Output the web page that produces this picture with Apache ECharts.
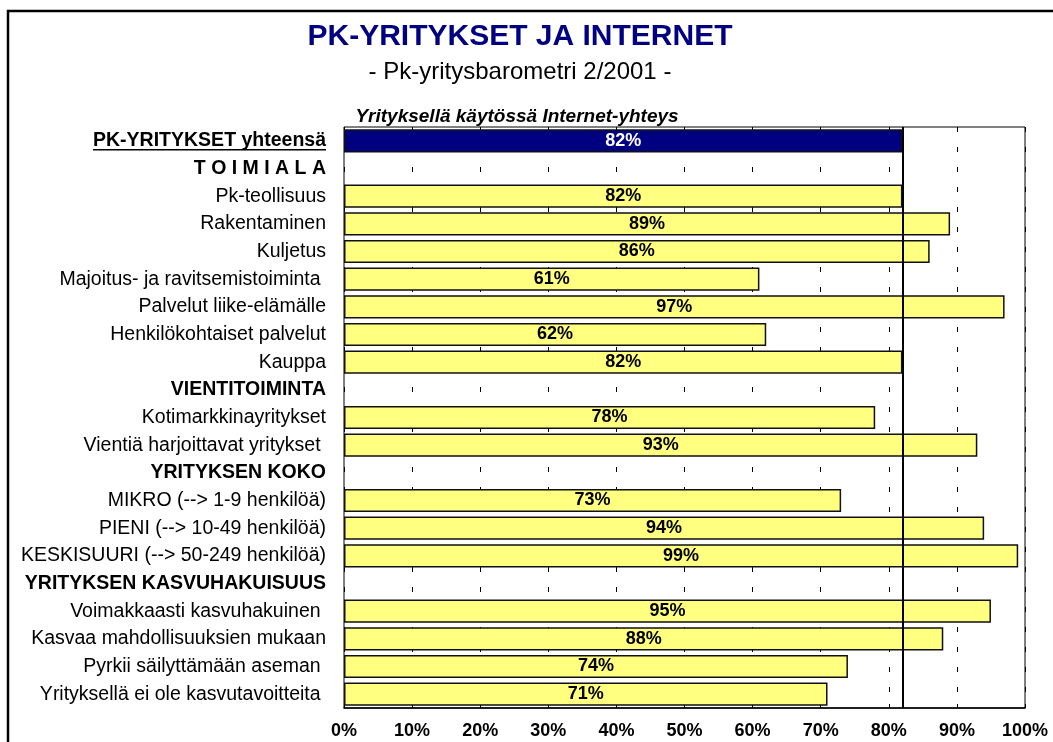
<!DOCTYPE html>
<html>
<head>
<meta charset="utf-8">
<script src="https://cdn.jsdelivr.net/npm/echarts@6/dist/echarts.min.js"></script>
<style>
  html, body { margin: 0; padding: 0; background: #fff; }
  #chart { width: 1053px; height: 742px; }
</style>
</head>
<body>
<div id="chart"></div>
<script>
var categories = [
    'PK-YRITYKSET yhteensä',
    'T O I M I A L A',
    'Pk-teollisuus',
    'Rakentaminen',
    'Kuljetus',
    'Majoitus- ja ravitsemistoiminta ',
    'Palvelut liike-elämälle',
    'Henkilökohtaiset palvelut',
    'Kauppa',
    'VIENTITOIMINTA',
    'Kotimarkkinayritykset',
    'Vientiä harjoittavat yritykset ',
    'YRITYKSEN KOKO',
    'MIKRO (--> 1-9 henkilöä)',
    'PIENI (--> 10-49 henkilöä)',
    'KESKISUURI (--> 50-249 henkilöä)',
    'YRITYKSEN KASVUHAKUISUUS',
    'Voimakkaasti kasvuhakuinen ',
    'Kasvaa mahdollisuuksien mukaan',
    'Pyrkii säilyttämään aseman ',
    'Yrityksellä ei ole kasvutavoitteita '
];
var values = [82, null, 82, 89, 86, 61, 97, 62, 82, null, 78, 93, null, 73, 94, 99, null, 95, 88, 74, 71];
var headerRows = [1, 9, 12, 16];
var totalRow = 0;
var averageLine = 82;
var xTicks = [0, 10, 20, 30, 40, 50, 60, 70, 80, 90, 100];

var FONT = '"Liberation Sans", Arial, sans-serif';
var LABEL_SIZE = 19.5;
var chart = echarts.init(document.getElementById('chart'));

var barData = values.map(function (v, i) {
    if (v === null) return null;
    var total = (i === totalRow);
    return {
        value: v,
        itemStyle: { color: total ? '#000080' : '#FFFF80' },
        label: { color: total ? '#fff' : '#000' }
    };
});

var option = {
    animation: false,
    backgroundColor: '#fff',
    title: [
        {
            text: 'PK-YRITYKSET JA INTERNET',
            left: 515, top: 17, textAlign: 'center',
            textStyle: { fontFamily: FONT, fontSize: 30, fontWeight: 'bold', color: '#000080' }
        },
        {
            text: '- Pk-yritysbarometri 2/2001 -',
            left: 515, top: 55, textAlign: 'center',
            textStyle: { fontFamily: FONT, fontSize: 24, fontWeight: 'normal', color: '#000' }
        },
        {
            text: 'Yrityksellä käytössä Internet-yhteys',
            left: 512, top: 102, textAlign: 'center',
            textStyle: { fontFamily: FONT, fontSize: 19, fontWeight: 'bold', fontStyle: 'italic', color: '#000' }
        }
    ],
    grid: {
        left: 344, right: 28, top: 127, bottom: 34,
        show: true, borderColor: '#000', borderWidth: 1, backgroundColor: '#fff'
    },
    xAxis: {
        type: 'value',
        min: xTicks[0], max: xTicks[xTicks.length - 1], interval: 10,
        axisLine: { show: true, lineStyle: { color: '#000', width: 1.5 } },
        axisTick: { show: true, inside: true, length: 4, lineStyle: { color: '#000' } },
        axisLabel: {
            formatter: '{value}%', margin: 14,
            fontFamily: FONT, fontSize: 18, fontWeight: 'bold', color: '#000'
        },
        splitLine: { show: true, lineStyle: { color: '#000', width: 1, type: [5, 15], dashOffset: 0 } }
    },
    yAxis: {
        type: 'category',
        inverse: true,
        data: categories,
        axisLine: { show: false },
        axisTick: { show: false },
        axisLabel: {
            margin: 18,
            fontFamily: FONT, fontSize: LABEL_SIZE, color: '#000',
            formatter: function (val, idx) {
                if (idx === totalRow) return '{t|' + val + '}';
                if (headerRows.indexOf(idx) >= 0) return '{h|' + val + '}';
                return val;
            },
            rich: {
                t: { fontFamily: FONT, fontSize: LABEL_SIZE, fontWeight: 'bold', color: '#000' },
                h: { fontFamily: FONT, fontSize: LABEL_SIZE, fontWeight: 'bold', color: '#000' }
            }
        }
    },
    series: [{
        type: 'bar',
        data: barData,
        barCategoryGap: '16%',
        itemStyle: { borderColor: '#111', borderWidth: 1.5 },
        label: {
            show: true, position: 'inside',
            formatter: '{c}%',
            fontFamily: FONT, fontSize: 18, fontWeight: 'bold'
        },
        markLine: {
            silent: true,
            symbol: 'none',
            label: { show: false },
            lineStyle: { color: '#000', width: 2, type: 'solid' },
            data: [{ xAxis: averageLine }]
        },
        z: 3
    }],
    graphic: [{
        type: 'rect',
        shape: { x: 8, y: 11, width: 1200, height: 900 },
        style: { fill: 'none', stroke: '#000', lineWidth: 2.5 },
        silent: true, z: 100
    }]
};

chart.setOption(option);

/* underline for the total row label, measured from the axis */
var ctx = document.createElement('canvas').getContext('2d');
ctx.font = 'bold ' + LABEL_SIZE + 'px ' + FONT;
var w = ctx.measureText(categories[totalRow]).width;
var yPix = chart.convertToPixel({ yAxisIndex: 0 }, categories[totalRow]);
var xRight = 344 - 18;
chart.setOption({
    graphic: [option.graphic[0], {
        type: 'line',
        shape: { x1: xRight - w, y1: yPix + 9, x2: xRight, y2: yPix + 9 },
        style: { stroke: '#000', lineWidth: 1.5 },
        silent: true
    }]
});
</script>
</body>
</html>
